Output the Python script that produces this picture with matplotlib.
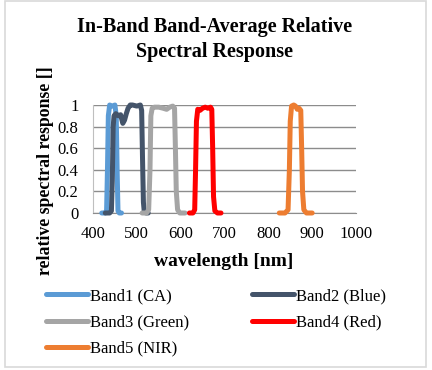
import matplotlib
matplotlib.use("Agg")
import matplotlib.pyplot as plt
from matplotlib.patches import Rectangle

# ---- data ----
band1_wl = [420, 428, 431, 433, 435, 438, 444, 450, 453, 455, 457, 460, 465]
band1_rsr = [0, 0, 0.02, 0.4, 0.9, 1.0, 0.99, 1.0, 0.9, 0.4, 0.02, 0, 0]

band2_wl = [428, 438, 442, 444, 446, 448, 452, 458, 463, 468, 472, 476, 480, 485, 490, 500, 508, 511, 513, 515, 517, 521, 526]
band2_rsr = [0, 0, 0.02, 0.3, 0.8, 0.9, 0.92, 0.9, 0.91, 0.83, 0.86, 0.92, 0.97, 1.0, 1.0, 0.99, 1.0, 0.95, 0.5, 0.1, 0.01, 0, 0]

band3_wl = [512, 522, 527, 530, 532, 535, 540, 550, 560, 568, 575, 582, 586, 588, 590, 593, 598, 610]
band3_rsr = [0, 0, 0.03, 0.4, 0.9, 0.97, 0.98, 0.98, 0.97, 0.96, 0.98, 0.99, 0.97, 0.6, 0.2, 0.03, 0, 0]

band4_wl = [620, 628, 632, 634, 636, 639, 644, 650, 656, 662, 668, 671, 673, 675, 678, 684, 692]
band4_rsr = [0, 0, 0.03, 0.4, 0.85, 0.96, 0.95, 0.97, 0.98, 0.97, 0.98, 0.96, 0.6, 0.15, 0.02, 0, 0]

band5_wl = [825, 838, 845, 848, 850, 853, 858, 862, 866, 870, 874, 876, 878, 881, 887, 900]
band5_rsr = [0, 0, 0.03, 0.4, 0.85, 0.99, 1.0, 0.99, 0.96, 0.97, 0.95, 0.6, 0.2, 0.03, 0, 0]

labels = ["Band1 (CA)", "Band2 (Blue)", "Band3 (Green)", "Band4 (Red)", "Band5 (NIR)"]
colors = ["#5B9BD5", "#44546A", "#A5A5A5", "#FF0000", "#ED7D31"]
x_ticks = [400, 500, 600, 700, 800, 900, 1000]
y_ticks = [0, 0.2, 0.4, 0.6, 0.8, 1]
y_tick_labels = ["0", "0.2", "0.4", "0.6", "0.8", "1"]

title = "In-Band Band-Average Relative\nSpectral Response"
xlabel = "wavelength [nm]"
ylabel = "relative spectral response []"

# ---- figure ----
W, H = 432, 370
DPI = 100
plt.rcParams['font.family'] = ['Liberation Serif', 'DejaVu Serif']
fig = plt.figure(figsize=(W / DPI, H / DPI), dpi=DPI)

def fx(px):
    return px / W

def fy(py):
    return 1 - py / H

# outer border
fig.patches.append(Rectangle((fx(5), fy(367)), fx(426) - fx(5), fy(1) - fy(367),
                             transform=fig.transFigure, fill=False,
                             edgecolor="#D9D9D9", linewidth=1.2))

ax_l, ax_r, ax_t, ax_b = 93, 356, 105, 213
ax = fig.add_axes([fx(ax_l), fy(ax_b), fx(ax_r) - fx(ax_l), fy(ax_t) - fy(ax_b)])

series = [(band1_wl, band1_rsr), (band2_wl, band2_rsr), (band3_wl, band3_rsr),
          (band4_wl, band4_rsr), (band5_wl, band5_rsr)]
handles = []
for (wl, rsr), c, lab in zip(series, colors, labels):
    h, = ax.plot(wl, rsr, color=c, linewidth=3.6, label=lab, clip_on=False,
                 solid_joinstyle='round', solid_capstyle='round', zorder=3)
    handles.append(h)

ax.set_xlim(400, 1000)
ax.set_ylim(0, 1)
ax.set_xticks(x_ticks)
ax.set_xticklabels([str(v) for v in x_ticks])
ax.set_yticks(y_ticks)
ax.set_yticklabels(y_tick_labels)
ax.tick_params(axis='both', length=0, labelsize=12, colors='black')
ax.tick_params(axis='y', pad=10.5)
ax.tick_params(axis='x', pad=9.5)
ax.grid(axis='y', color='#8C8C8C', linewidth=1.0)
ax.set_axisbelow(True)
for s in ['top', 'right']:
    ax.spines[s].set_visible(False)
ax.spines['left'].set_color('#BFBFBF')
ax.spines['bottom'].set_color('#8C8C8C')
ax.patch.set_alpha(0)

fig.text(fx(215), fy(39.5), title, ha='center', va='center', fontsize=14.5,
         fontweight='bold', linespacing=1.3)
fig.text(fx(224), fy(261), xlabel, ha='center', va='center', fontsize=14,
         fontweight='bold')
fig.text(fx(46), fy(171), ylabel, ha='center', va='center', fontsize=12.8,
         fontweight='bold', rotation=90)

order = [0, 2, 4, 1, 3]
leg = fig.legend([handles[i] for i in order], [labels[i] for i in order],
                 ncol=2, loc='upper left', bbox_to_anchor=(fx(46), fy(288)),
                 frameon=False, fontsize=12, handlelength=2.5, handletextpad=0.12,
                 columnspacing=3.8, labelspacing=0.62, borderpad=0, borderaxespad=0)

fig.savefig("out.png", dpi=DPI)
